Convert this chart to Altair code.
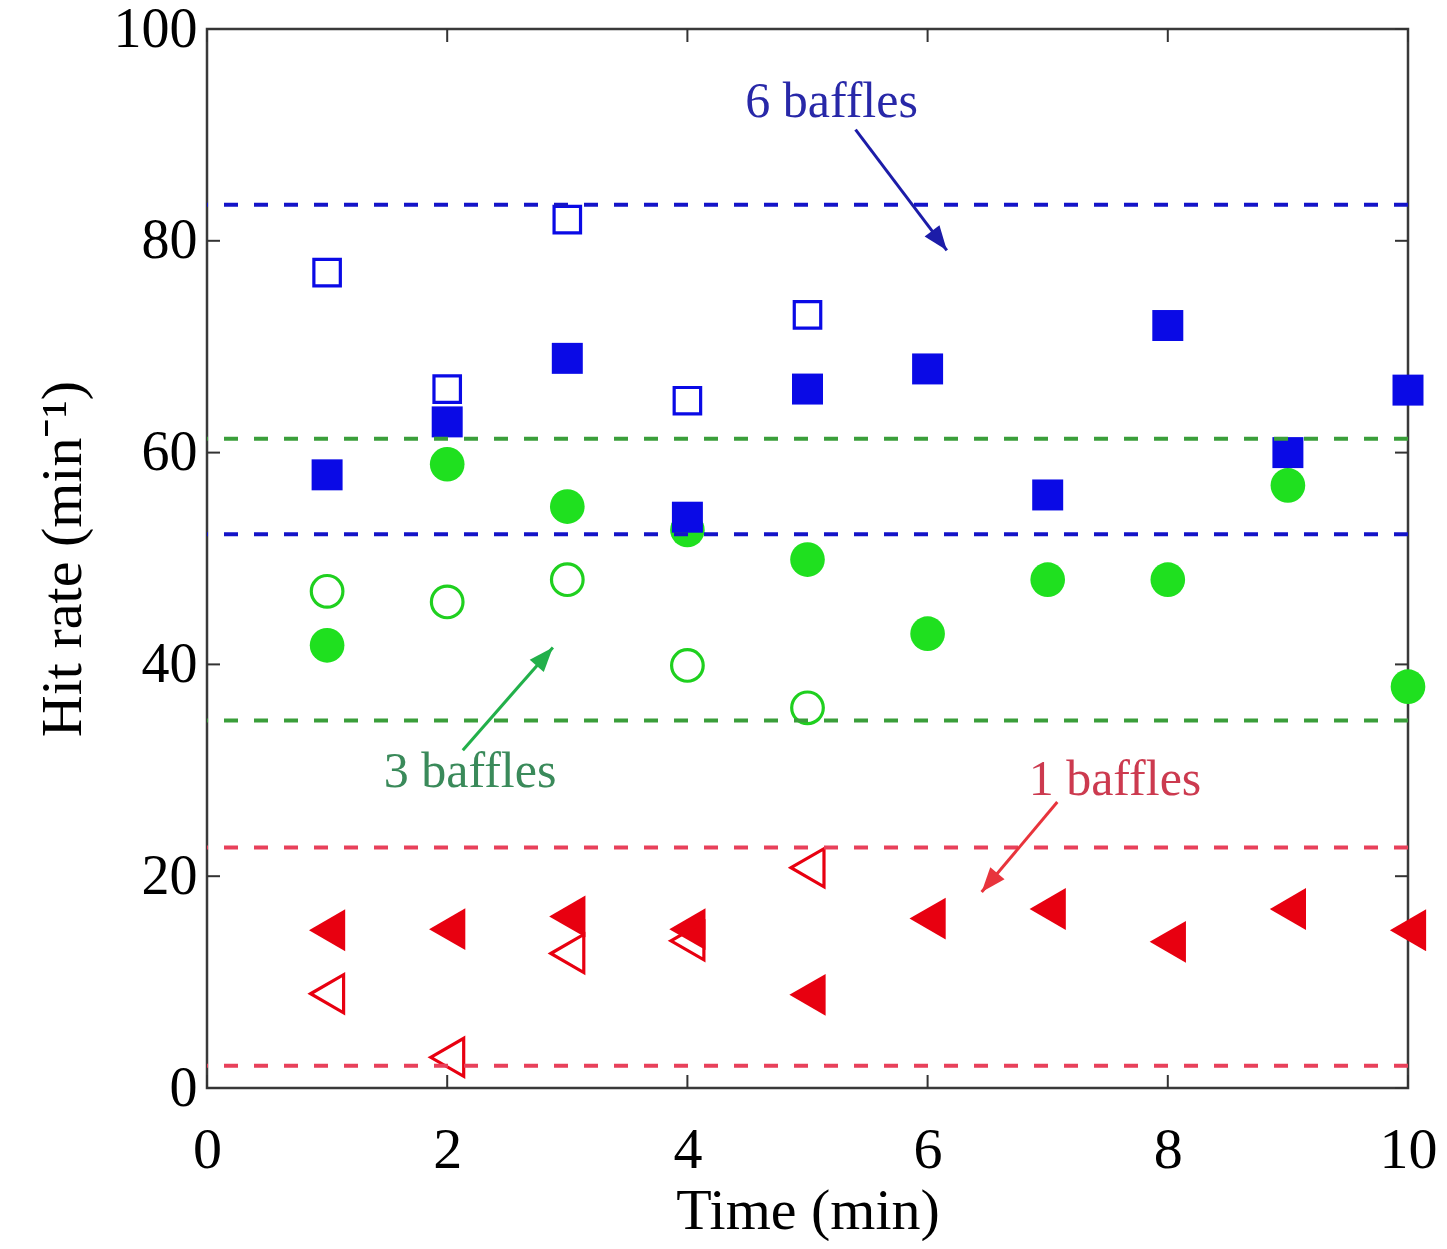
import math
import altair as alt
import pandas as pd

# ---------------- data ----------------
time_all = [1, 2, 3, 4, 5, 6, 7, 8, 9, 10]
time_open = [1, 2, 3, 4, 5]

six_filled = [57.9, 62.9, 68.9, 53.9, 66.0, 67.9, 56.0, 72.0, 60.0, 65.9]
six_open = [77.0, 66.0, 82.0, 64.9, 73.0]
three_filled = [41.8, 58.9, 54.9, 52.7, 49.9, 42.9, 48.0, 48.0, 56.9, 37.9]
three_open = [46.9, 45.9, 48.0, 39.9, 35.9]
one_filled = [14.9, 15.0, 16.2, 15.0, 8.8, 16.0, 16.9, 13.8, 16.9, 14.9]
one_open = [8.9, 2.9, 12.7, 13.9, 20.8]

band_levels = [83.4, 52.3, 61.3, 34.7, 22.7, 2.1]
band_colors = ["#1414c8", "#1414c8", "#3a9e3a", "#3a9e3a", "#e8405a", "#e8405a"]

ann_text = ["6 baffles", "3 baffles", "1 baffles"]
ann_x = [5.20, 2.19, 7.56]
ann_y = [93.1, 29.8, 29.1]
ann_color = ["#2828a8", "#3a8a5a", "#cc3a4f"]
arrow_x1 = [5.40, 2.13, 7.08]
arrow_y1 = [90.5, 31.9, 27.0]
arrow_x2 = [6.16, 2.88, 6.45]
arrow_y2 = [79.1, 41.6, 18.5]
arrow_color = ["#1c1ca8", "#22b04a", "#e8343c"]

x_ticks = [0, 2, 4, 6, 8, 10]
y_ticks = [0, 20, 40, 60, 80, 100]

# ---------------- layout ----------------
W, H = 1201, 1059
XMAX, YMAX = 10, 100
FONT = "Liberation Serif"

xs = alt.Scale(domain=[0, XMAX], nice=False, zero=False)
ys = alt.Scale(domain=[0, YMAX], nice=False, zero=False)

x_axis = alt.Axis(values=x_ticks, format="d", title="Time (min)", grid=False, ticks=False, tickSize=0,
                  domain=False, labelFont=FONT, labelFontSize=58, labelColor="black",
                  labelBaseline="alphabetic", labelPadding=79, labelFlush=False,
                  titleFont=FONT, titleFontSize=58, titleFontWeight="normal", titleColor="black",
                  titleX=W / 2, titleY=140, titleBaseline="alphabetic", titleAlign="center")
y_axis = alt.Axis(values=y_ticks, format="d", title="Hit rate (min\u207b\u00b9)", grid=False, ticks=False,
                  tickSize=0, domain=False, labelFont=FONT, labelFontSize=56, labelColor="black",
                  labelPadding=10, labelFlush=False,
                  titleFont=FONT, titleFontSize=58, titleFontWeight="normal", titleColor="black",
                  titleX=-144, titleY=H / 2, titleAngle=270, titleAlign="center", titleBaseline="middle")


def series(xv, yv):
    return pd.DataFrame({"t": xv, "r": yv})


def pts(df, shape, color, size, filled, first=False):
    m = alt.Chart(df).mark_point(shape=shape, size=size, filled=filled, opacity=1,
                                 color=color, strokeWidth=3.2 if not filled else 0)
    if first:
        return m.encode(x=alt.X("t:Q", scale=xs, axis=x_axis), y=alt.Y("r:Q", scale=ys, axis=y_axis))
    return m.encode(x=alt.X("t:Q", scale=xs), y=alt.Y("r:Q", scale=ys))


g_f = pts(series(time_all, three_filled), "circle", "#1fe01f", 1200, True, first=True)
g_o = pts(series(time_open, three_open), "circle", "#1fd01f", 1000, False)
b_f = pts(series(time_all, six_filled), "square", "#0a0ae6", 960, True)
b_o = pts(series(time_open, six_open), "square", "#0a0ae6", 700, False)
r_f = pts(series(time_all, one_filled), "triangle-left", "#e80010", 1750, True)
r_o = pts(series(time_open, one_open), "triangle-left", "#e80010", 1450, False)

bands = alt.Chart(pd.DataFrame({"level": band_levels, "c": band_colors})).mark_rule(
    strokeDash=[14, 16], strokeWidth=4
).encode(y=alt.Y("level:Q", scale=ys), color=alt.Color("c:N", scale=None))

# annotations
px_per_x = W / XMAX
px_per_y = H / YMAX
angles = []
for x1, y1, x2, y2 in zip(arrow_x1, arrow_y1, arrow_x2, arrow_y2):
    dx = (x2 - x1) * px_per_x
    dy = -(y2 - y1) * px_per_y
    angles.append(math.degrees(math.atan2(dx, -dy)) % 360)

arr_df = pd.DataFrame({"x1": arrow_x1, "y1": arrow_y1, "x2": arrow_x2, "y2": arrow_y2,
                       "c": arrow_color, "a": angles})
arrow_lines = alt.Chart(arr_df).mark_rule(strokeWidth=3).encode(
    x=alt.X("x1:Q", scale=xs), y=alt.Y("y1:Q", scale=ys), x2="x2:Q", y2="y2:Q",
    color=alt.Color("c:N", scale=None))
arrow_heads = alt.Chart(arr_df).mark_point(
    shape="M0,0 L-0.38,1 L0.38,1 Z", size=2400, filled=True, opacity=1, strokeWidth=0
).encode(x=alt.X("x2:Q", scale=xs), y=alt.Y("y2:Q", scale=ys),
         color=alt.Color("c:N", scale=None), angle=alt.Angle("a:Q", scale=None))

labels = alt.Chart(pd.DataFrame({"x": ann_x, "y": ann_y, "txt": ann_text, "c": ann_color})).mark_text(
    font=FONT, fontSize=50, align="center", baseline="middle"
).encode(x=alt.X("x:Q", scale=xs), y=alt.Y("y:Q", scale=ys), text="txt:N",
         color=alt.Color("c:N", scale=None))

# inward ticks on all four sides
tick_col = "#333333"
lt = alt.Chart(pd.DataFrame({"v": y_ticks, "e": [0] * len(y_ticks)})).mark_tick(
    orient="horizontal", size=13, thickness=2, color=tick_col, xOffset=6.5, opacity=1
).encode(x=alt.X("e:Q", scale=xs), y=alt.Y("v:Q", scale=ys))
rt = alt.Chart(pd.DataFrame({"v": y_ticks, "e": [XMAX] * len(y_ticks)})).mark_tick(
    orient="horizontal", size=13, thickness=2, color=tick_col, xOffset=-6.5, opacity=1
).encode(x=alt.X("e:Q", scale=xs), y=alt.Y("v:Q", scale=ys))
bt = alt.Chart(pd.DataFrame({"v": x_ticks, "e": [0] * len(x_ticks)})).mark_tick(
    orient="vertical", size=13, thickness=2, color=tick_col, yOffset=-6.5, opacity=1
).encode(x=alt.X("v:Q", scale=xs), y=alt.Y("e:Q", scale=ys))
tt = alt.Chart(pd.DataFrame({"v": x_ticks, "e": [YMAX] * len(x_ticks)})).mark_tick(
    orient="vertical", size=13, thickness=2, color=tick_col, yOffset=6.5, opacity=1
).encode(x=alt.X("v:Q", scale=xs), y=alt.Y("e:Q", scale=ys))

chart = alt.layer(
    g_f, g_o, b_f, b_o, r_f, r_o, bands, arrow_lines, arrow_heads, labels, lt, rt, bt, tt
).properties(
    width=W, height=H,
    autosize=alt.AutoSizeParams(type="none"),
    padding={"left": 199, "top": 21, "right": 30, "bottom": 153},
).configure(
    background="white",
    view=alt.ViewConfig(stroke="#3a3a3a", strokeWidth=2.5),
)

chart.save("out.html", embed_options={"renderer": "svg", "actions": False})
